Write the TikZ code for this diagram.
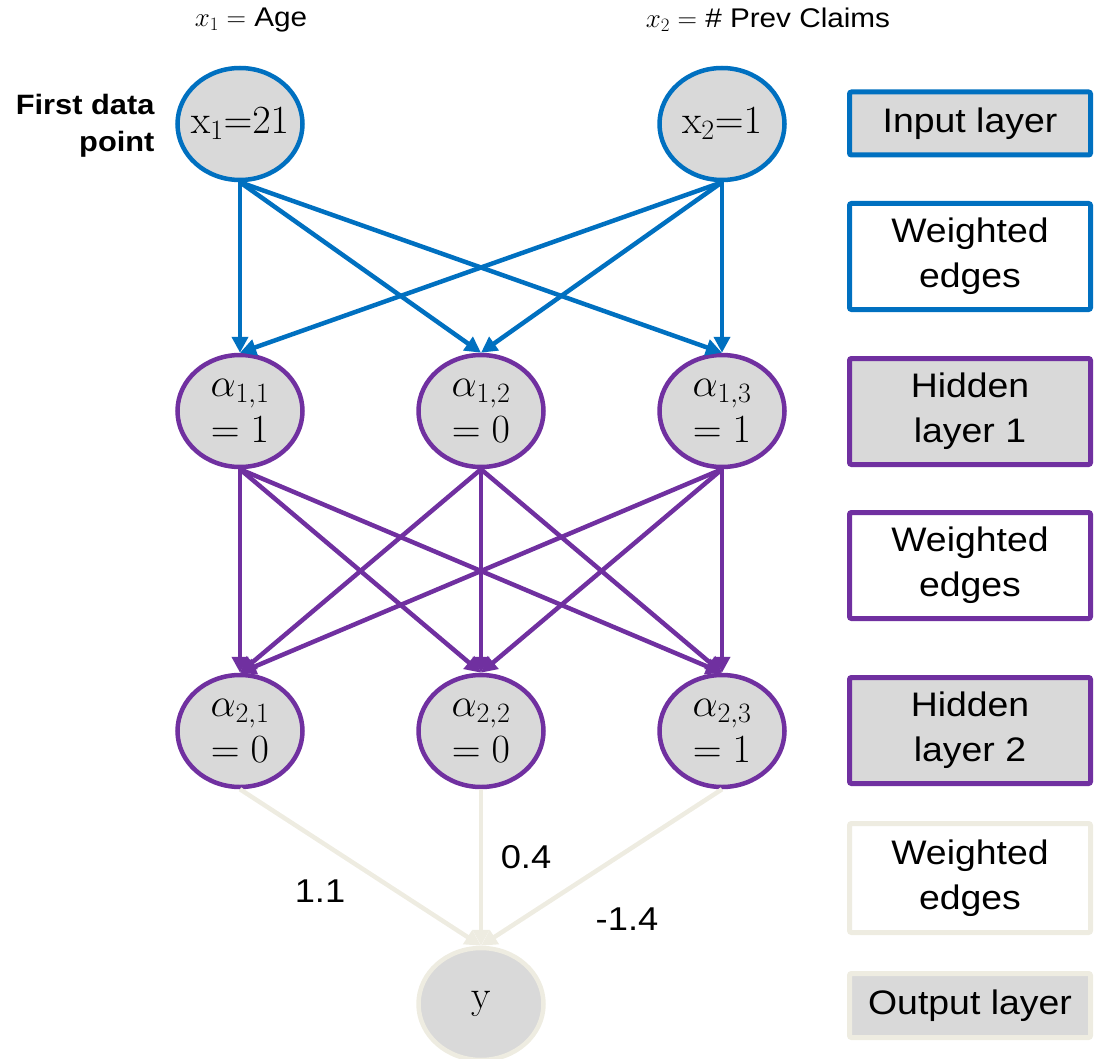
\RequirePackage{fix-cm}
\documentclass[tikz,border=0pt]{standalone}
\usepackage[no-math]{fontspec}
\setmainfont{Liberation Sans}[FakeStretch=1.1]
\usetikzlibrary{shapes.geometric,arrows.meta}
\definecolor{inblue}{HTML}{0070C0}
\definecolor{hidpurple}{HTML}{7030A0}
\definecolor{outbeige}{HTML}{EEECE1}
\definecolor{nodegray}{HTML}{D9D9D9}
\tikzset{
  neuron/.style={ellipse, draw, fill=nodegray, line width=4.5pt,
    minimum width=125pt, minimum height=112pt, inner xsep=-25pt, inner ysep=0pt,
    align=center, font=\fontsize{40}{46}\selectfont},
  layerbox/.style={draw, line width=5pt, rounded corners=2pt,
    minimum width=241pt, align=center,
    font=\fontsize{34}{45}\selectfont},
  edge/.style={line width=4.5pt, -{Triangle[length=16pt,width=16pt]}},
  lbl/.style={font=\fontsize{27}{30}\selectfont},
  wlbl/.style={font=\fontsize{33}{38}\selectfont}
}
\begin{document}
\begin{tikzpicture}[x=1pt,y=-1pt]
\useasboundingbox (0,0) rectangle (1097,1059);

% feature names
\node[lbl] (n1) at (251,20) {$x_1 =$ Age};
\node[lbl] (n2) at (768,20) {$x_2 =$ \# Prev Claims};
\node[font=\fontsize{28}{37}\selectfont\bfseries, align=right, anchor=east] (fdp) at (158,126) {First data\\point};

% input layer
\node[neuron, draw=inblue] (i1) at (240,124) {$\mathrm{x}_1{=}21$};
\node[neuron, draw=inblue] (i2) at (722,124) {$\mathrm{x}_2{=}1$};

% hidden layer 1
\node[neuron, draw=hidpurple] (a11) at (240,411) {$\alpha_{1,1}$\\$=1$};
\node[neuron, draw=hidpurple] (a12) at (481,411) {$\alpha_{1,2}$\\$=0$};
\node[neuron, draw=hidpurple] (a13) at (722,411) {$\alpha_{1,3}$\\$=1$};

% hidden layer 2
\node[neuron, draw=hidpurple] (a21) at (240,731) {$\alpha_{2,1}$\\$=0$};
\node[neuron, draw=hidpurple] (a22) at (481,731) {$\alpha_{2,2}$\\$=0$};
\node[neuron, draw=hidpurple] (a23) at (722,731) {$\alpha_{2,3}$\\$=1$};

% output
\node[neuron, draw=outbeige] (y) at (481,1004) {$\mathrm{y}$};

% input -> hidden 1
\foreach \s in {i1,i2}
  \foreach \t in {a11,a12,a13}
    \draw[edge, inblue] (\s.south) -- (\t.north);

% hidden 1 -> hidden 2
\foreach \s in {a11,a12,a13}
  \foreach \t in {a21,a22,a23}
    \draw[edge, hidpurple] (\s.south) -- (\t.north);

% hidden 2 -> output
\foreach \s in {a21,a22,a23}
  \draw[edge, outbeige] (\s.south) -- (y.north);

\node[wlbl] (w1) at (320,891) {1.1};
\node[wlbl] (w2) at (526,857) {0.4};
\node[wlbl] (w3) at (627,919) {-1.4};

% legend
\node[layerbox, draw=inblue, fill=nodegray, minimum height=63pt] (L1) at (970,123.5) {Input layer};
\node[layerbox, draw=inblue, fill=white, minimum height=106pt] (L2) at (970,256.5) {Weighted\\edges};
\node[layerbox, draw=hidpurple, fill=nodegray, minimum height=106pt] (L3) at (970,411.5) {Hidden\\layer 1};
\node[layerbox, draw=hidpurple, fill=white, minimum height=106pt] (L4) at (970,565.5) {Weighted\\edges};
\node[layerbox, draw=hidpurple, fill=nodegray, minimum height=106pt] (L5) at (970,730.5) {Hidden\\layer 2};
\node[layerbox, draw=outbeige, fill=white, minimum height=109pt] (L6) at (970,878) {Weighted\\edges};
\node[layerbox, draw=outbeige, fill=nodegray, minimum height=64pt] (L7) at (970,1005.5) {Output layer};
\end{tikzpicture}
\end{document}
